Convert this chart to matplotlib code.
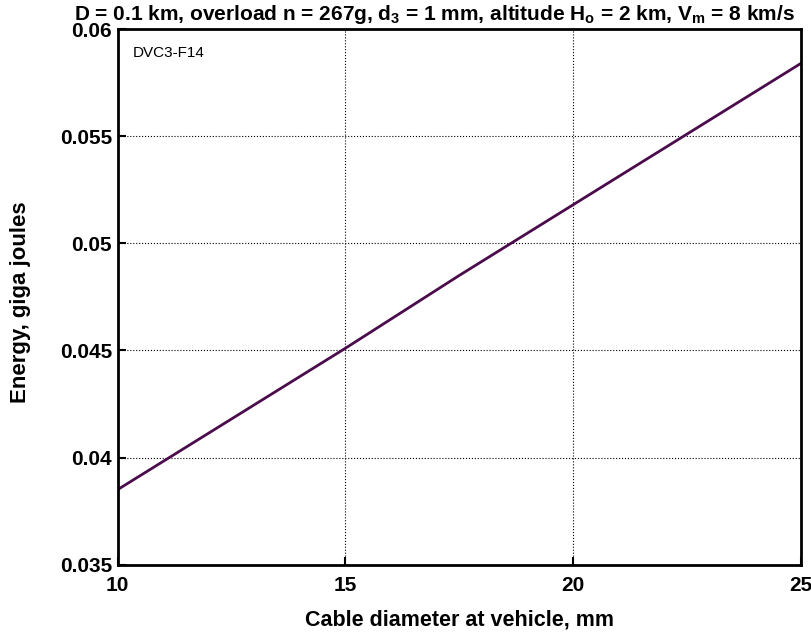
import numpy as np
import matplotlib.pyplot as plt

# cable diameter (mm) vs energy (GJ)
diameter = [10, 12.5, 15, 17.5, 20, 22.5, 25]
energy = [0.0385, 0.0418, 0.0451, 0.0485, 0.0518, 0.0551, 0.0584]
x_ticks = [10, 15, 20, 25]
y_ticks = [0.035, 0.04, 0.045, 0.05, 0.055, 0.06]
y_tick_labels = ['0.035', '0.04', '0.045', '0.05', '0.055', '0.06']

plt.rcParams['font.family'] = ['Liberation Sans', 'DejaVu Sans']

fig = plt.figure(figsize=(8.11, 6.35), dpi=100)
ax = fig.add_axes([0.1449, 0.1107, 0.8428, 0.8436])

ax.plot(diameter, energy, color='#4b0c4b', linewidth=2)

ax.set_xlim(10, 25)
ax.set_ylim(0.035, 0.06)
ax.set_xticks(x_ticks)
ax.set_xticklabels([str(t) for t in x_ticks])
ax.set_yticks(y_ticks)
ax.set_yticklabels(y_tick_labels)
ax.tick_params(direction='in', length=6, width=1.5, labelsize=15)
ax.tick_params(axis='x', pad=8)
ax.tick_params(axis='y', pad=4)
for lab in ax.get_xticklabels() + ax.get_yticklabels():
    lab.set_fontweight('bold')
for s in ax.spines.values():
    s.set_linewidth(2)

ax.grid(True, color='black', linestyle=':', linewidth=0.8)

ax.set_xlabel('Cable diameter at vehicle, mm', fontsize=15.5, fontweight='bold')
ax.xaxis.set_label_coords(0.5, -0.084)
ax.set_ylabel('Energy, giga joules', fontsize=16, fontweight='bold')
ax.yaxis.set_label_coords(-0.126, 0.49)

fig.text(0.536, 0.9685,
         r'D = 0.1 km, overload n = 267g, d$_{\mathregular{3}}$ = 1 mm, altitude H$_{\mathregular{o}}$ = 2 km, V$_{\mathregular{m}}$ = 8 km/s',
         fontsize=15, fontweight='bold', ha='center', va='baseline')

ax.text(0.0227, 0.955, 'DVC3-F14', transform=ax.transAxes, fontsize=11, va='center', ha='left')

fig.savefig('out.png', dpi=100)
